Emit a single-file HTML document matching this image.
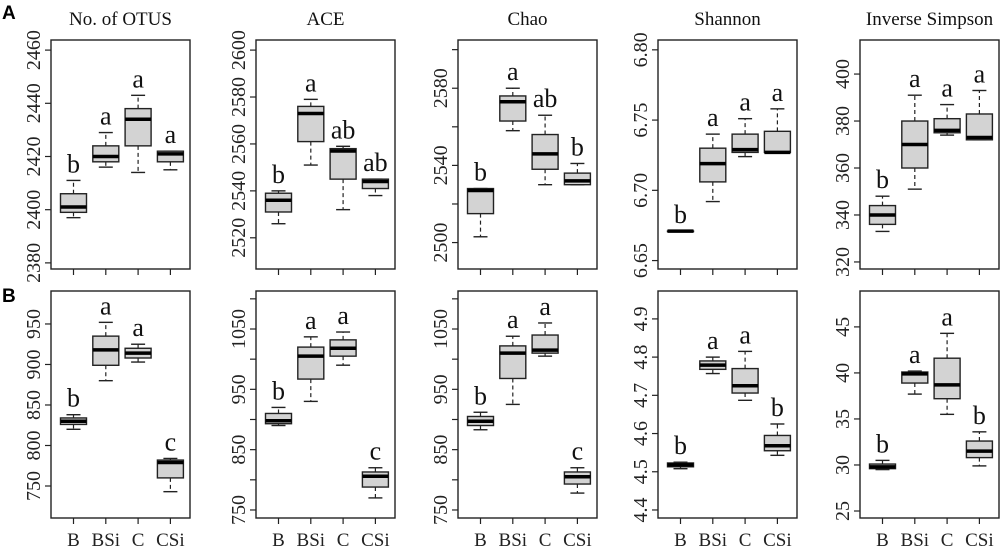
<!DOCTYPE html>
<html><head><meta charset="utf-8"><style>
html,body{margin:0;padding:0;background:#fff;}
svg{display:block;font-family:"Liberation Serif",serif;}
</style></head><body>
<svg id="fig" width="1000" height="551" viewBox="0 0 1000 551" xmlns="http://www.w3.org/2000/svg"></svg>
<script>
const categories = ["B","BSi","C","CSi"];
const titles = ["No. of OTUS","ACE","Chao","Shannon","Inverse Simpson"];
// each box: [lowWhisker, q1, median, q3, highWhisker]
const otusA = [[2397,2399,2401,2406,2411],[2416,2418,2420,2424,2429],[2414,2424,2434,2438,2443],[2415,2418,2421,2422,2422]];
const aceA = [[2526,2531,2536,2539,2540],[2551,2561,2573,2576,2579],[2532,2545,2557,2558,2559],[2538,2541,2544,2545,2545]];
const chaoA = [[2503,2515,2527,2528,2528],[2558,2563,2573,2576,2580],[2530,2538,2546,2556,2566],[2530,2530,2532,2536,2541]];
const shannonA = [[6.671,6.671,6.671,6.671,6.671],[6.692,6.706,6.719,6.730,6.740],[6.724,6.727,6.729,6.740,6.751],[6.727,6.727,6.727,6.742,6.758]];
const invSimpA = [[333,336,340,344,348],[351,360,370,380,391],[374,375,376,381,387],[372,372,373,383,393]];
const otusB = [[820,826,830,834,838],[880,899,918,935,952],[903,908,914,920,925],[743,760,779,782,784]];
const aceB = [[890,893,898,910,920],[930,967,1005,1020,1037],[990,1005,1018,1032,1045],[770,788,806,813,820]];
const chaoB = [[883,890,897,905,912],[925,968,1010,1022,1038],[1005,1010,1015,1040,1060],[778,793,805,813,820]];
const shannonB = [[4.508,4.513,4.518,4.523,4.525],[4.757,4.768,4.779,4.790,4.800],[4.687,4.706,4.725,4.770,4.815],[4.543,4.555,4.568,4.595,4.625]];
const invSimpB = [[29.5,29.6,29.8,30.1,30.5],[37.7,38.9,39.9,40.1,40.2],[35.5,37.2,38.7,41.6,44.3],[29.9,30.8,31.5,32.6,33.6]];
const lettersA = [["b","a","a","a"],["b","a","ab","ab"],["b","a","ab","b"],["b","a","a","a"],["b","a","a","a"]];
const lettersB = [["b","a","a","c"],["b","a","a","c"],["b","a","a","c"],["b","a","a","b"],["b","a","a","b"]];
const domainsA = [[2377.7,2463.8],[2506.7,2604.3],[2486.3,2605],[6.644,6.807],[317,414.5]];
const domainsB = [[710.5,990.7],[736.7,1113],[736.7,1113],[4.379,4.973],[24.24,48.9]];
const ticksA = [[2380,2400,2420,2440,2460],[2520,2540,2560,2580,2600],[2500,2520,2540,2560,2580,2600],[6.65,6.70,6.75,6.80],[320,340,360,380,400]];
const tickLabelsA = [["2380","2400","2420","2440","2460"],["2520","2540","2560","2580","2600"],["2500","","2540","","2580",""],["6.65","6.70","6.75","6.80"],["320","340","360","380","400"]];
const ticksB = [[750,800,850,900,950],[750,800,850,900,950,1000,1050,1100],[750,800,850,900,950,1000,1050,1100],[4.4,4.5,4.6,4.7,4.8,4.9],[25,30,35,40,45]];
const tickLabelsB = [["750","800","850","900","950"],["750","","850","","950","","1050",""],["750","","850","","950","","1050",""],["4.4","4.5","4.6","4.7","4.8","4.9"],["25","30","35","40","45"]];

const rowsData = [[otusA,aceA,chaoA,shannonA,invSimpA],[otusB,aceB,chaoB,shannonB,invSimpB]];
const rowsLetters = [lettersA, lettersB];
const rowsDomains = [domainsA, domainsB];
const rowsTicks = [ticksA, ticksB];
const rowsTickLabels = [tickLabelsA, tickLabelsB];
const rowNames = ["A","B"];

const NS = "http://www.w3.org/2000/svg";
const svg = document.getElementById("fig");
const panelLeft = [51,256,458,658,860];
const panelW = 139;
const rowTop = [40,291], rowBot = [269,518];
function mk(tag, attrs, parent){ const e=document.createElementNS(NS,tag); for(const k in attrs) e.setAttribute(k,attrs[k]); (parent||svg).appendChild(e); return e; }

rowNames.forEach((rn, r) => {
  const t = mk("text",{x:2,y:r===0?19:302,"font-family":"Liberation Sans, sans-serif","font-weight":"bold","font-size":19,fill:"#000"});
  t.textContent = rn;
  
  
});

titles.forEach((tt, p) => {
  const t = mk("text",{x:panelLeft[p]+panelW/2,y:25,"text-anchor":"middle","font-size":19,fill:"#111"});
  t.textContent = tt;
  
  
});

for (let r=0;r<2;r++){
  for (let p=0;p<5;p++){
    const L = panelLeft[p], T = rowTop[r], Bt = rowBot[r];
    const dom = rowsDomains[r][p];
    const y = v => Bt - (v - dom[0]) / (dom[1]-dom[0]) * (Bt - T);
    const x = i => L + 22.5 + i*32.3;
    const g = mk("g",{});
    
    
    const fr = mk("rect",{x:L,y:T,width:panelW,height:Bt-T,fill:"none",stroke:"#222","stroke-width":1.4},g);
    
    
    rowsTicks[r][p].forEach((tv, k) => {
      const yy = y(tv);
      const tk = mk("line",{x1:L-6,x2:L,y1:yy,y2:yy,stroke:"#222","stroke-width":1.2},g);
      
      
      const lab = rowsTickLabels[r][p][k];
      if (lab){
        const tx = mk("text",{x:0,y:0,"text-anchor":"middle","font-size":20,fill:"#222",transform:`translate(${L-11},${yy}) rotate(-90)`},g);
        tx.textContent = lab;
        
        
      }
    });
    categories.forEach((c, i) => {
      const cx = x(i);
      const xt = mk("line",{x1:cx,x2:cx,y1:Bt,y2:Bt+6,stroke:"#222","stroke-width":1.2},g);
      
      
      if (r===1){
        const cl = mk("text",{x:cx,y:546,"text-anchor":"middle","font-size":19,fill:"#222"},g);
        cl.textContent = c;
        
        
      }
      const d = rowsData[r][p][i];
      const bx = mk("g",{},g);
      
      
      const hw = 13, cw = 7;
      if (d[4] > d[3]) {
        mk("line",{x1:cx,x2:cx,y1:y(d[3]),y2:y(d[4]),stroke:"#222","stroke-width":1.2,"stroke-dasharray":"4,3"},bx);
      }
      if (d[1] > d[0]) {
        mk("line",{x1:cx,x2:cx,y1:y(d[1]),y2:y(d[0]),stroke:"#222","stroke-width":1.2,"stroke-dasharray":"4,3"},bx);
      }
      mk("line",{x1:cx-cw,x2:cx+cw,y1:y(d[4]),y2:y(d[4]),stroke:"#222","stroke-width":1.4},bx);
      mk("line",{x1:cx-cw,x2:cx+cw,y1:y(d[0]),y2:y(d[0]),stroke:"#222","stroke-width":1.4},bx);
      mk("rect",{x:cx-hw,y:y(d[3]),width:2*hw,height:Math.max(0.5,y(d[1])-y(d[3])),fill:"#d3d3d3",stroke:"#222","stroke-width":1.4},bx);
      mk("line",{x1:cx-hw,x2:cx+hw,y1:y(d[2]),y2:y(d[2]),stroke:"#000","stroke-width":3.5},bx);
      const lt = mk("text",{x:cx,y:y(d[4])-8,"text-anchor":"middle","font-size":26,fill:"#111"},g);
      lt.textContent = rowsLetters[r][p][i];
      
      
    });
  }
}
</script>
</body></html>
